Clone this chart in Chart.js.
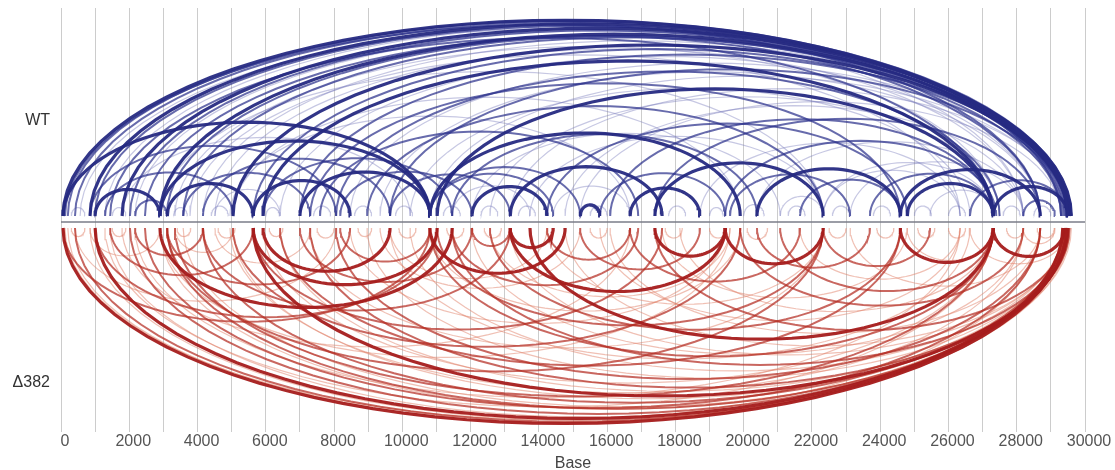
<!DOCTYPE html>
<html>
<head>
<meta charset="utf-8">
<script src="https://cdn.jsdelivr.net/npm/chart.js@4.4.0/dist/chart.umd.min.js"></script>
<style>
  body { margin: 0; background: #fff; }
  #wrap { width: 1115px; height: 470px; }
</style>
</head>
<body>
<div id="wrap"><canvas id="arcs" width="1115" height="470"></canvas></div>
<script>
// arcs as [start base, end base, strength] ; strength 3 = thick/dark, 1 = thin/light
const wtArcs = [
  [60, 29500, 3], [200, 29600, 2], [410, 29450, 2], [850, 29550, 3], [1000, 29300, 2],
  [1290, 29500, 1], [1790, 29600, 3], [2020, 29400, 2], [2170, 29450, 1], [2900, 29500, 3],
  [3100, 29350, 2], [3580, 29550, 2], [4160, 29450, 1], [5040, 29500, 3], [5630, 29300, 2],
  [7000, 29600, 2], [8470, 29450, 1], [9640, 29500, 2], [10810, 29400, 1], [13160, 29500, 1],
  [15210, 29300, 1],
  [120, 28690, 2], [560, 28190, 1], [2460, 28690, 2], [4510, 28190, 1], [6420, 28690, 1],
  [9350, 28700, 1], [14770, 28190, 1], [17400, 28690, 2], [20390, 28190, 1], [24590, 28690, 3],
  [1440, 27310, 2], [3340, 27500, 1], [5920, 27310, 3], [8060, 27500, 2], [11020, 27310, 3],
  [12570, 27500, 1], [16090, 27310, 2], [19460, 27400, 2], [22330, 27310, 1], [24790, 27310, 3],
  [3780, 26340, 1], [7300, 24590, 2], [10230, 26630, 1], [14240, 24790, 2], [18720, 26340, 1],
  [20390, 24590, 3],
  [2900, 22330, 1], [8970, 22330, 2], [13740, 22330, 1], [17400, 22330, 3], [19600, 23120, 2],
  [5040, 19900, 1], [10810, 19900, 3], [11460, 20390, 2], [12040, 21070, 1], [15790, 19460, 2],
  [16670, 18720, 3],
  [4950, 16670, 1], [7590, 16910, 2], [10810, 15210, 2], [13160, 17610, 3], [14420, 16670, 1],
  [15210, 15790, 3],
  [60, 10810, 3], [850, 8060, 2], [1790, 10230, 1], [2900, 10810, 3], [3110, 5630, 3],
  [3580, 7300, 2], [4160, 9640, 2], [5630, 8470, 3], [5920, 11460, 2], [7000, 10810, 3],
  [8180, 12040, 2], [9640, 13160, 2], [10810, 14420, 2], [11460, 13740, 1], [12040, 14240, 3],
  [1290, 5040, 2], [2170, 3110, 2], [996, 2900, 3], [4510, 6420, 1],
  [21650, 24590, 2], [22330, 26340, 1], [23120, 28190, 1], [23700, 27310, 2], [26630, 29500, 2],
  [27310, 29500, 3], [28190, 29120, 2], [25460, 27310, 1], [21070, 22330, 1],
  // short loops near the axis
  [300, 700, 1], [1500, 1900, 1], [3300, 3700, 1], [4400, 4900, 1], [6000, 6400, 1],
  [7400, 7900, 1], [8600, 9100, 1], [9800, 10300, 1], [11200, 11700, 1], [12300, 12800, 1],
  [13400, 13900, 1], [15500, 16000, 1], [17800, 18300, 1], [19000, 19400, 1], [20000, 20600, 1],
  [21300, 21800, 1], [22600, 23100, 1], [23800, 24300, 1], [25000, 25500, 1], [26000, 26500, 1],
  [27600, 28100, 1], [28500, 29000, 1]
];

const d382Arcs = [
  [60, 29450, 3], [200, 29500, 1], [410, 29400, 2], [850, 29550, 1], [1000, 29350, 3],
  [1440, 29500, 1], [2020, 29450, 2], [2900, 29400, 1], [3110, 29500, 2], [3580, 29600, 1],
  [4160, 29350, 2], [5040, 29450, 1], [5630, 29500, 3], [6420, 29400, 1], [7300, 29550, 2],
  [8970, 29450, 1], [10230, 29350, 1], [11460, 29500, 2], [13160, 29400, 1], [14770, 29450, 1],
  [17400, 29500, 2],
  [117, 28690, 1], [2460, 28690, 2], [4950, 28190, 1], [8060, 28690, 2], [12040, 28190, 1],
  [16090, 28690, 1], [19900, 28190, 2],
  [1290, 27310, 1], [3340, 27310, 2], [5920, 27310, 1], [10810, 27310, 2], [13740, 27310, 3],
  [18130, 27310, 1], [21070, 27310, 2], [24590, 27310, 3],
  [2170, 26340, 1], [6420, 24590, 2], [9640, 26630, 1], [12570, 24590, 2], [15790, 26340, 1],
  [17610, 24790, 1], [20390, 23700, 2],
  [3110, 22330, 2], [7300, 22330, 1], [11020, 22330, 2], [14240, 22330, 1], [19460, 22330, 3],
  [16670, 21650, 2],
  [2900, 19600, 1], [5040, 19900, 2], [8470, 19460, 1], [10810, 19900, 1], [12570, 19600, 1],
  [13160, 19460, 3], [17400, 19460, 3], [15210, 18720, 2],
  [1790, 16670, 1], [5630, 17610, 2], [9350, 15210, 1], [11460, 16910, 2], [13160, 14420, 3],
  [14240, 16670, 2],
  [60, 10810, 2], [410, 8060, 1], [996, 11020, 2], [1440, 5630, 2], [2900, 11460, 3],
  [3110, 8470, 2], [3340, 5040, 1], [4160, 13160, 2], [5630, 11020, 3], [5920, 9640, 3],
  [7000, 12040, 2], [8180, 10810, 2], [9640, 14240, 1], [10810, 14770, 3], [12040, 13160, 2],
  [4510, 7300, 1], [850, 2900, 1], [2170, 4160, 2],
  [21650, 26340, 1], [22330, 25460, 2], [23120, 28690, 1], [26630, 29500, 1], [27310, 29400, 3],
  [28190, 29120, 1], [24790, 27310, 1],
  [300, 700, 1], [1500, 1900, 1], [3400, 3800, 1], [4600, 5100, 1], [6100, 6500, 1],
  [7500, 8000, 1], [8700, 9100, 1], [9900, 10400, 1], [11300, 11800, 1], [12400, 12900, 1],
  [15500, 16000, 1], [17700, 18200, 1], [19000, 19500, 1], [20100, 20700, 1], [22500, 23000, 1],
  [23900, 24400, 1], [25100, 25600, 1], [26000, 26500, 1], [27700, 28200, 1], [28600, 29100, 1]
];

const xTicks = { min: 0, max: 30000, step: 1000, labelEvery: 2000 };
const rowLabels = { 'WT': 101, 'Δ382': -161 };

const wtColors = { 3: 'rgba(38,42,130,0.95)', 2: 'rgba(45,50,140,0.72)', 1: 'rgba(115,118,185,0.4)' };
const d382Colors = { 3: 'rgba(165,28,28,0.95)', 2: 'rgba(180,45,35,0.72)', 1: 'rgba(225,130,105,0.5)' };
const widths = { 3: 3.2, 2: 2, 1: 1.2 };

// arc height grows a bit slower than span
function arcHeight(span) {
  return 0.107 * Math.pow(span, 0.73);
}

function arcPoints(start, end, sign) {
  const c = (start + end) / 2, r = (end - start) / 2, h = arcHeight(end - start);
  const pts = [];
  const n = 48;
  for (let i = 0; i <= n; i++) {
    const t = Math.PI * i / n;
    pts.push({ x: c + r * Math.cos(t), y: sign * (6 + h * Math.sin(t)) });
  }
  return pts;
}

function makeDatasets(list, sign, colors) {
  return list.map(([s, e, k]) => ({
    data: arcPoints(s, e, sign),
    borderColor: colors[k],
    borderWidth: widths[k],
    order: 3 - k,
    pointRadius: 0,
    fill: false,
    tension: 0
  }));
}

const datasets = [
  ...makeDatasets(wtArcs, 1, wtColors),
  ...makeDatasets(d382Arcs, -1, d382Colors),
  {
    data: [{ x: xTicks.min, y: 0 }, { x: xTicks.max, y: 0 }],
    borderColor: '#7a7d88', borderWidth: 1.6, pointRadius: 0, order: -1
  }
];

const font = { family: 'Liberation Sans', size: 16 };

new Chart(document.getElementById('arcs'), {
  type: 'scatter',
  data: { datasets },
  options: {
    responsive: false,
    animation: false,
    showLine: true,
    layout: { padding: { top: 8, right: 30, left: 0, bottom: 0 } },
    plugins: { legend: { display: false }, tooltip: { enabled: false } },
    scales: {
      x: {
        type: 'linear',
        min: xTicks.min,
        max: xTicks.max,
        afterBuildTicks: axis => {
          const t = [];
          for (let v = xTicks.min; v <= xTicks.max; v += xTicks.step) t.push({ value: v });
          axis.ticks = t;
        },
        afterFit: axis => { axis.height = 38; },
        grid: { color: '#cccccc', lineWidth: 1, drawTicks: false },
        border: { display: false },
        ticks: {
          autoSkip: false,
          maxRotation: 0,
          padding: 0,
          labelOffset: 4,
          color: '#555',
          font,
          callback: v => (v % xTicks.labelEvery === 0 ? String(v) : '')
        },
        title: {
          display: true,
          text: 'Base',
          color: '#444',
          font,
          padding: { top: 0, bottom: -3 }
        }
      },
      y: {
        min: -210,
        max: 214,
        afterBuildTicks: axis => {
          axis.ticks = Object.values(rowLabels).map(v => ({ value: v }));
        },
        afterFit: axis => { axis.width = 61; axis.paddingTop = 0; axis.paddingBottom = 0; },
        grid: { display: false, drawTicks: false },
        border: { display: false },
        ticks: {
          padding: 11,
          color: '#333',
          font,
          callback: v => Object.keys(rowLabels).find(k => rowLabels[k] === v) || ''
        }
      }
    }
  }
});
</script>
</body>
</html>
